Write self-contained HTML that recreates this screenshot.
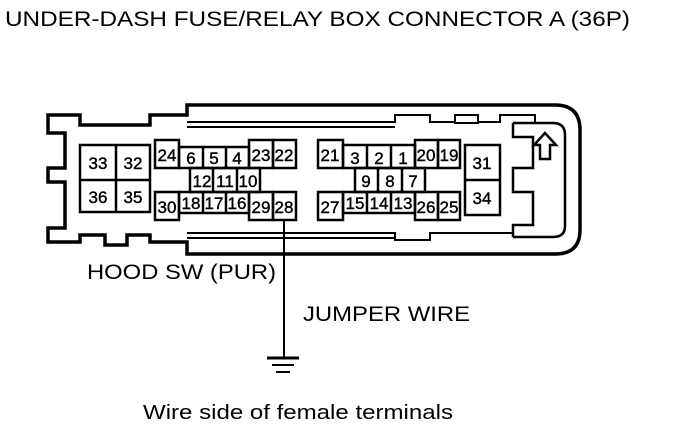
<!DOCTYPE html>
<html><head><style>
body{margin:0;background:#fff;width:688px;height:432px;overflow:hidden}
svg{display:block}
text{font-family:"Liberation Sans",Arial,sans-serif;fill:#000}
.c{font-size:17px;text-anchor:middle;stroke:#000;stroke-width:0.4}
</style></head><body>
<svg width="688" height="432" viewBox="0 0 688 432" xmlns="http://www.w3.org/2000/svg">
<text x="5" y="26" font-size="21" textLength="625" lengthAdjust="spacingAndGlyphs">UNDER-DASH FUSE/RELAY BOX CONNECTOR A (36P)</text>
<g fill="none" stroke="#000">
<path stroke-width="3.5" d="M187,105 L555,105 Q580,105 580,130 L580,230 Q580,254 555,254 L187,254 L187,242 L150,242 L150,235 L127,235 L127,245 L105,245 L105,235 L80,235 L80,242 L48,242 L48,228 L65,228 L65,182 L48,182 L48,168 L65,168 L65,133 L48,133 L48,115 L80,115 L80,125 L150,125 L150,115 L187,115 Z"/>
<path stroke-width="2" d="M187,122 L395,122 L395,115 L430,115 L430,122 L455,122 M187,127 L395,127 M478,122 L500,122 L500,115 L535,115 L535,123"/>
<path stroke-width="2" d="M455,115 L478,115 L478,123 L455,123 Z"/>
<path stroke-width="2.5" d="M513,123 L553,123 Q565,123 565,135 L565,226 Q565,237 553,237 L513,237"/>
<path stroke-width="2.5" d="M513,123 L513,137 L533,137 L533,168 L513,168 L513,192 L533,192 L533,225 L513,225 L513,237"/>
<path stroke-width="2" d="M187,233 L395,233 L395,240 L430,240 L430,233 L513,233 M187,238 L395,238"/>
<path stroke-width="2.5" d="M545,133 L556,145 L550,145 L550,159 L540,159 L540,145 L534,145 Z"/>
<g stroke-width="2.5">
<rect x="80" y="145" width="70" height="67"/><line x1="116" y1="145" x2="116" y2="212"/><line x1="80" y1="180" x2="150" y2="180"/>
<rect x="155" y="140" width="24" height="28"/>
<rect x="179" y="147" width="70" height="21"/><line x1="203" y1="147" x2="203" y2="168"/><line x1="226" y1="147" x2="226" y2="168"/>
<rect x="249" y="140" width="24" height="28"/><rect x="273" y="140" width="23" height="28"/>
<rect x="190" y="168" width="70" height="24"/><line x1="213" y1="168" x2="213" y2="192"/><line x1="237" y1="168" x2="237" y2="192"/>
<rect x="155" y="192" width="24" height="28"/>
<rect x="179" y="192" width="70" height="21"/><line x1="203" y1="192" x2="203" y2="213"/><line x1="226" y1="192" x2="226" y2="213"/>
<rect x="249" y="192" width="24" height="28"/><rect x="273" y="192" width="23" height="28"/>
<rect x="318" y="140" width="25" height="28"/>
<rect x="343" y="145" width="72" height="23"/><line x1="367" y1="145" x2="367" y2="168"/><line x1="391" y1="145" x2="391" y2="168"/>
<rect x="415" y="140" width="23" height="28"/><rect x="438" y="140" width="22" height="28"/>
<rect x="355" y="168" width="70" height="24"/><line x1="378" y1="168" x2="378" y2="192"/><line x1="402" y1="168" x2="402" y2="192"/>
<rect x="318" y="192" width="25" height="28"/>
<rect x="343" y="192" width="72" height="21"/><line x1="367" y1="192" x2="367" y2="213"/><line x1="391" y1="192" x2="391" y2="213"/>
<rect x="415" y="192" width="23" height="28"/><rect x="438" y="192" width="22" height="28"/>
<rect x="465" y="145" width="35" height="70"/><line x1="465" y1="180" x2="500" y2="180"/>
</g>
<line x1="284" y1="220" x2="284" y2="358" stroke-width="2"/>
<line x1="267" y1="358" x2="299" y2="358" stroke-width="3"/>
<line x1="272" y1="365" x2="294" y2="365" stroke-width="2"/>
<line x1="276" y1="372" x2="290" y2="372" stroke-width="2"/>
</g>
<g class="c">
<text x="98" y="169">33</text><text x="133" y="169">32</text>
<text x="98" y="203">36</text><text x="133" y="203">35</text>
<text x="167" y="161">24</text><text x="191" y="164">6</text><text x="214" y="164">5</text><text x="237" y="164">4</text><text x="261" y="161">23</text><text x="284" y="161">22</text>
<text x="202" y="187">12</text><text x="225" y="187">11</text><text x="248" y="187">10</text>
<text x="167" y="213">30</text><text x="191" y="209">18</text><text x="214" y="209">17</text><text x="237" y="209">16</text><text x="261" y="213">29</text><text x="284" y="213">28</text>
<text x="330" y="161">21</text><text x="355" y="164">3</text><text x="379" y="164">2</text><text x="403" y="164">1</text><text x="426" y="161">20</text><text x="449" y="161">19</text>
<text x="366" y="187">9</text><text x="390" y="187">8</text><text x="413" y="187">7</text>
<text x="330" y="213">27</text><text x="355" y="209">15</text><text x="379" y="209">14</text><text x="403" y="209">13</text><text x="426" y="213">26</text><text x="449" y="213">25</text>
<text x="482" y="169">31</text><text x="482" y="204">34</text>
</g>
<text x="87" y="279" font-size="21" textLength="189" lengthAdjust="spacingAndGlyphs">HOOD SW (PUR)</text>
<text x="303" y="321" font-size="21" textLength="167" lengthAdjust="spacingAndGlyphs">JUMPER WIRE</text>
<text x="143" y="419" font-size="20" textLength="310" lengthAdjust="spacingAndGlyphs">Wire side of female terminals</text>
</svg>
</body></html>
